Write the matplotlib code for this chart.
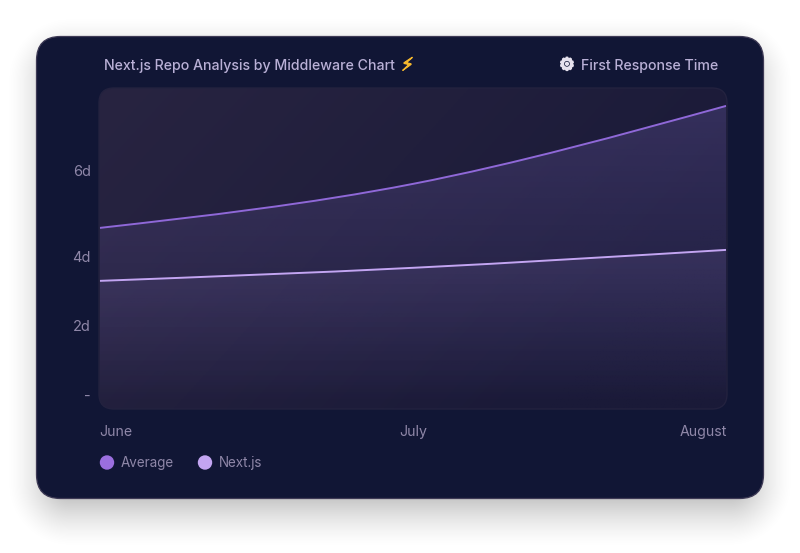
import numpy as np
import matplotlib
matplotlib.use("Agg")
import matplotlib.pyplot as plt
import matplotlib.patheffects as pe
from matplotlib.path import Path
from matplotlib.patches import FancyBboxPatch, PathPatch, Circle

months = ["June", "July", "August"]
average_days = [4.48, 5.66, 7.75]
nextjs_days = [3.06, 3.41, 3.89]
y_tick_positions = [0, 1.86, 3.70, 6.02]
y_tick_labels = ["-", "2d", "4d", "6d"]
series_names = ["Average", "Next.js"]
series_colors = ["#8f68d8", "#c3a5f2"]
legend_colors = ["#9b6fdf", "#c3a5f2"]
title = "Next.js Repo Analysis by Middleware Chart"
metric = "First Response Time"

W, H = 800, 553
fig = plt.figure(figsize=(W / 100, H / 100), dpi=100, facecolor="white")
plt.rcParams["font.family"] = ["Inter", "DejaVu Sans"]


def rounded_mask(x0, y0, x1, y1, r, blur=0.0):
    xx, yy = np.meshgrid(np.arange(W) + 0.5, np.arange(H) + 0.5)
    cx, cy = (x0 + x1) / 2, (y0 + y1) / 2
    qx = np.abs(xx - cx) - (x1 - x0) / 2 + r
    qy = np.abs(yy - cy) - (y1 - y0) / 2 + r
    d = np.hypot(np.maximum(qx, 0), np.maximum(qy, 0)) + np.minimum(np.maximum(qx, qy), 0) - r
    return np.clip(0.5 - d / max(blur, 1.0), 0, 1)


# page layer: soft card shadow
bg = fig.add_axes([0, 0, 1, 1])
bg.set_xlim(0, W)
bg.set_ylim(H, 0)
bg.axis("off")
s = rounded_mask(40, 50, 760, 514, 30, blur=68)
shadow = np.zeros((H, W, 4))
shadow[..., 3] = 0.36 * s ** 1.5
bg.imshow(shadow, extent=(0, W, H, 0), aspect="auto", zorder=0, interpolation="bilinear")
bg.add_patch(FancyBboxPatch((36.5, 36.5), 727, 462, boxstyle="round,pad=0,rounding_size=24",
                            fc="#111635", ec="#3e3a55", lw=0.9, zorder=1))
bg.set_xlim(0, W)
bg.set_ylim(H, 0)

# chart axes: x from June to August, y in days
px_left, px_right, px_top, px_bottom = 99, 727, 88, 409
ax = fig.add_axes([px_left / W, 1 - px_bottom / H, (px_right - px_left) / W, (px_bottom - px_top) / H])
x = np.arange(len(months), dtype=float)
ax.set_xlim(-0.003, 2.003)
ax.set_ylim(-0.375, 8.23)
ax.set_facecolor("none")
for sp in ax.spines.values():
    sp.set_visible(False)
ax.patch.set_alpha(0)

clip = FancyBboxPatch((px_left, px_top), px_right - px_left, px_bottom - px_top,
                      boxstyle="round,pad=0,rounding_size=15", transform=bg.transData,
                      fc="none", ec="none")
fig.add_artist(clip)

# panel: faint diagonal gradient
gx, gy = np.meshgrid(np.linspace(0, 1, 200), np.linspace(0, 1, 120))
t = np.clip(gx * 0.85 + (1 - gy) * 0.4, 0, 1)[..., None]
c0 = np.array(matplotlib.colors.to_rgb("#282441"))
c1 = np.array(matplotlib.colors.to_rgb("#1a1a38"))
panel = t * c1 + (1 - t) * c0
y0, y1 = ax.get_ylim()
xl = ax.get_xlim()
im = ax.imshow(panel, extent=(xl[0], xl[1], y0, y1), origin="lower", aspect="auto", zorder=0)
im.set_clip_path(clip)


def curve_path(xs, ys, close_to=None):
    """Monotone cubic segments through the points, as a Bezier path."""
    xs, ys = np.asarray(xs), np.asarray(ys)
    h = np.diff(xs)
    m = np.diff(ys) / h
    tang = np.zeros(len(xs))
    for i in range(1, len(xs) - 1):
        p = (m[i - 1] * h[i] + m[i] * h[i - 1]) / (h[i - 1] + h[i])
        tang[i] = (np.sign(m[i - 1]) + np.sign(m[i])) * min(abs(m[i - 1]), abs(m[i]), 0.5 * abs(p))
    tang[0] = (3 * m[0] - tang[1]) / 2
    tang[-1] = (3 * m[-1] - tang[-2]) / 2
    verts = [(xs[0], ys[0])]
    codes = [Path.MOVETO]
    for i in range(len(h)):
        d = h[i] / 3
        verts += [(xs[i] + d, ys[i] + d * tang[i]), (xs[i + 1] - d, ys[i + 1] - d * tang[i + 1]), (xs[i + 1], ys[i + 1])]
        codes += [Path.CURVE4] * 3
    if close_to is not None:
        verts += [(xs[-1], close_to), (xs[0], close_to), (xs[0], ys[0])]
        codes += [Path.LINETO, Path.LINETO, Path.CLOSEPOLY]
    return Path(verts, codes)


def gradient_area(values, color, top_alpha, top_value, z):
    base = y0
    rgb = matplotlib.colors.to_rgb(color)
    arr = np.zeros((256, 2, 4))
    arr[..., :3] = rgb
    frac = np.linspace(0, 1, 256)[:, None]
    arr[..., 3] = top_alpha * frac
    g = ax.imshow(arr, extent=(xl[0], xl[1], base, top_value), origin="lower", aspect="auto", zorder=z)
    patch = PathPatch(curve_path(x, values, close_to=base), transform=ax.transData, fc="none", ec="none")
    ax.add_patch(patch)
    g.set_clip_path(patch)


gradient_area(average_days, "#8f78d8", 0.22, max(average_days), 1)
gradient_area(nextjs_days, "#a88fe0", 0.13, max(nextjs_days), 2)

for vals, col, z in zip([average_days, nextjs_days], series_colors, [3, 4]):
    ax.add_patch(PathPatch(curve_path(x, vals), fc="none", ec=col, lw=1.4, zorder=z, capstyle="butt"))

ax.set_xlim(xl)
ax.set_ylim(y0, y1)
ax.set_xticks([])
ax.set_yticks(y_tick_positions)
ax.set_yticklabels(y_tick_labels, fontsize=10.5, color="#8f87a8")
ax.tick_params(axis="y", length=0, pad=6)

# panel outline
bg2 = fig.add_axes([0, 0, 1, 1], facecolor="none")
bg2.set_xlim(0, W)
bg2.set_ylim(H, 0)
bg2.axis("off")
bg2.add_patch(FancyBboxPatch((px_left, px_top), px_right - px_left, px_bottom - px_top,
                             boxstyle="round,pad=0,rounding_size=15", fc="none", ec="#23223f", lw=1))

# month labels
label_c = "#8f87a8"
bg2.text(99.5, 432, months[0], fontsize=10.2, color=label_c, ha="left", va="center")
bg2.text(413, 432, months[1], fontsize=10.2, color=label_c, ha="center", va="center")
bg2.text(727.5, 432, months[2], fontsize=10.2, color=label_c, ha="right", va="center")

# header
head_c = "#b9b0d6"
bg2.text(104, 66, title, fontsize=10.2, color=head_c, ha="left", va="center", fontweight=500)
bg2.text(407.5, 65.5, "\u26a1", fontsize=13, color="#f5b82e", ha="center", va="center", family="DejaVu Sans",
         path_effects=[pe.withStroke(linewidth=0.8, foreground="#f5b82e")])
bg2.text(718, 66, metric, fontsize=10.2, color=head_c, ha="right", va="center", fontweight=500)
bg2.text(567, 65, "\u2699", fontsize=12.5, color="#e6e2ee", ha="center", va="center",
         family="DejaVu Sans", fontweight="bold",
         path_effects=[pe.withStroke(linewidth=1.2, foreground="#e6e2ee")])

# legend
for cx, name, col, tx in zip([107, 205], series_names, legend_colors, [121, 219]):
    bg2.add_patch(Circle((cx, 462.5), 7.2, fc=col, ec="none"))
    bg2.text(tx, 463.5, name, fontsize=9.7, color=label_c, ha="left", va="center")

fig.savefig("out.png", dpi=100, facecolor="white")
